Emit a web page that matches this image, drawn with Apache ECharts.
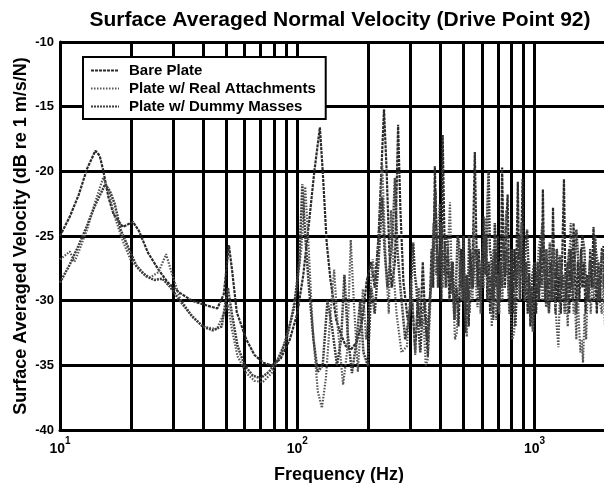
<!DOCTYPE html>
<html>
<head>
<meta charset="utf-8">
<title>Surface Averaged Normal Velocity</title>
<script src="https://cdn.jsdelivr.net/npm/echarts@6/dist/echarts.min.js"></script>
<style>
  html, body { margin: 0; padding: 0; background: #fff; }
  #chart { width: 604px; height: 483px; }
</style>
</head>
<body>
<div id="chart"></div>
<script>
// 数据 [频率Hz, dB]
var seriesNames = ['Bare Plate', 'Plate w/ Real Attachments', 'Plate w/ Dummy Masses'];

var barePlate = [
    [10,-25.0],[11,-23.5],[12,-21.8],[13,-19.8],[14.1,-18.4],[14.7,-18.8],[15.2,-19.9],[16,-22],[16.8,-23.3],
    [18.4,-24.3],[20.3,-23.9],[21.5,-24.6],[23.5,-26.3],[26,-27.6],[28.5,-28.6],[32,-29.4],[36,-30.0],
    [42,-30.4],[46,-30.6],[49,-29.5],[51.5,-25.7],[53,-27.5],[55.6,-30.9],[61,-33],[66,-34.2],[72,-34.8],
    [78,-35],[85,-34.5],[93,-33],[100,-31],[106,-28],[112,-24],[118,-20],[124.5,-16.6],[128,-20],[133,-25.5],
    [138,-28.4],[146,-31.5],[152,-32.5],[160,-33.5],[168,-33.8],[178,-33.2],[188,-31.5],[196,-28.5],[205,-27],
    [212,-29],[220,-25],[232,-15.2],[238,-20],[244,-26],[250,-29],[258,-27],[266,-16.4],[272,-23],[280,-28.5],
    [292,-31.5],[305,-30],[314,-34],[322,-30],[330,-32],[338,-27],[345,-31],[355,-34.3],[362,-30],[368,-26],
    [374,-29],[380,-19.6],[386,-25],[392,-28],[400,-26],[405,-30],[410,-17.2],[416,-24],[422,-29],[430,-26],
    [438,-30],[448,-27],[458,-31],[470,-29],[478,-32],[490,-26],[498,-30],[505,-28],[512,-32.5],[520,-29],
    [528,-32],[535,-26],[545,-29],[552,-24],[560,-18.5],[568,-25],[575,-29],[582,-26],[590,-30],[600,-27],
    [610,-23.5],[618,-28],[625,-25],[632,-30],[642,-27],[650,-31],[660,-28],[670,-31.5],[680,-26],[690,-29],
    [700,-25],[712,-30],[722,-27],[730,-19.7],[740,-26],[750,-29],[760,-24],[770,-21.8],[780,-28],[790,-30],
    [800,-27],[810,-31],[822,-26],[835,-29],[850,-20.8],[860,-27],[870,-30],[880,-25],[890,-20.6],[900,-27],
    [910,-30],[922,-27],[935,-31],[948,-28],[960,-32],[972,-29],[985,-32.3],[1000,-28],[1015,-31],[1030,-27],
    [1045,-30],[1060,-26],[1072,-29],[1084,-21.4],[1096,-27],[1110,-30],[1122,-26],[1135,-29],[1150,-31],
    [1165,-27],[1180,-30],[1196,-22.8],[1210,-28],[1225,-31],[1240,-27],[1255,-30],[1270,-28],[1290,-31],
    [1310,-26],[1330,-20.6],[1345,-27],[1360,-30],[1380,-27],[1400,-31],[1420,-26],[1440,-29],[1460,-24],
    [1480,-28],[1500,-31],[1520,-27],[1545,-30],[1570,-26],[1590,-29],[1615,-27],[1640,-31],[1665,-28],
    [1690,-30],[1715,-26],[1740,-29],[1772,-24.3],[1800,-28],[1830,-31],[1860,-27],[1890,-30],[1920,-26],
    [1955,-25.8],[1980,-29],[2000,-27]
];

var realAttach = [
    [10,-26.8],[10.5,-26.5],[11,-26.2],[11.5,-27],[12,-26.2],[13,-24.5],[14,-22.5],[15.2,-20.5],[16,-21.5],
    [17,-23.5],[18.5,-25.5],[19.8,-26.8],[22,-27.8],[24,-28.2],[26,-27.8],[28,-26.4],[29.5,-27.8],[32,-29.8],
    [36,-31.2],[40,-32],[45.8,-32.2],[49,-31],[51,-30.3],[53,-32.2],[56,-34.3],[61,-35.6],[66,-36.2],[71.5,-36.3],
    [78,-35.6],[86,-34],[94,-31.5],[99.5,-29],[104,-26],[108,-21.2],[111,-25],[116,-32],[122,-37],[127,-38.3],
    [132,-36],[138,-31],[143,-27.6],[148,-32],[156,-36.5],[162,-34],[168,-25.3],[173,-30],[180,-35.5],[189,-29.1],
    [195,-33],[202,-30],[208,-26.8],[214,-29],[222,-24],[228,-19.5],[236,-27],[243,-31],[248,-23],[255,-28],
    [262,-31],[275,-34],[290,-33.5],[302,-28.4],[308,-31],[314,-34.2],[320,-31],[325,-29],[332,-32],[340,-31.5],
    [348,-35],[355,-34.5],[362,-31],[368,-28],[375,-24],[380,-27],[385,-28],[392,-25],[398,-22.5],[404,-27],
    [410,-29],[418,-26],[425,-29],[432,-26],[440,-22.4],[447,-28],[455,-30],[462,-33],[470,-32.5],[477,-29],
    [485,-27],[492,-30],[500,-26.8],[508,-30],[518,-32.8],[526,-29],[533,-31],[540,-28],[548,-30],[555,-24],
    [562,-28],[575,-30.5],[585,-27],[592,-31],[600,-27],[610,-29],[620,-23.6],[628,-28],[640,-30],[652,-27],
    [660,-32],[670,-26],[680,-29],[690,-31.5],[700,-28],[710,-31],[720,-27],[732,-30],[745,-26],[760,-23],
    [772,-28],[782,-31],[790,-30],[805,-33],[820,-32.5],[835,-28],[850,-27],[865,-30],[880,-24],[895,-29],
    [910,-30],[925,-27],[940,-30],[950,-27],[965,-31],[983,-32.4],[1000,-29],[1020,-29],[1040,-26],[1060,-25],
    [1080,-30],[1100,-29],[1120,-26],[1135,-30],[1150,-31],[1170,-28],[1185,-30],[1200,-26],[1220,-30],
    [1240,-32],[1260,-33.6],[1280,-29],[1300,-27],[1320,-30],[1340,-28],[1360,-29.5],[1380,-32],[1400,-27],
    [1420,-24],[1440,-28],[1460,-31],[1480,-30],[1500,-33],[1520,-29],[1540,-32],[1560,-34],[1580,-33],
    [1600,-34.8],[1625,-31],[1650,-33],[1675,-29],[1700,-28],[1725,-31],[1750,-29],[1780,-30],[1810,-26],
    [1850,-27],[1880,-30],[1920,-31],[1950,-28],[1980,-32],[2000,-29]
];

var dummyMass = [
    [10,-28.6],[11,-27.2],[12,-25.7],[13,-24.2],[14,-22.7],[15.5,-21],[16.2,-21.5],[17,-22.5],[18,-24.5],
    [19.5,-26],[21,-27.3],[23,-28.1],[25,-28.4],[27,-28.3],[29,-28.9],[32,-30],[36,-31.2],[40,-32.0],[44,-32.3],
    [48,-32],[51,-29],[53,-31],[56,-33.5],[60,-35],[65,-35.8],[70,-36],[76,-35.5],[83,-34.5],[90,-33],[97,-30.5],
    [102,-27],[105,-21],[108,-25],[112,-29],[117,-33],[122,-35.5],[128,-35],[134,-30],[140,-32],[147,-35],
    [153,-33],[158,-28],[163,-32.5],[170,-35.6],[178,-33],[184,-30],[190,-34],[198,-35],[205,-29],[212,-31],
    [220,-27],[228,-22],[233,-26],[240,-29],[252,-25],[258,-20.5],[264,-26],[272,-29],[285,-33],[298,-31],
    [303,-28],[308,-25.5],[313,-28],[318,-29],[324,-32],[330,-34],[337,-31],[345,-30],[352,-33],[358,-33],
    [365,-29],[372,-27],[377,-24],[382,-21.5],[387,-26],[392,-29],[398,-26],[405,-24],[410,-27],[415,-28],
    [422,-25],[430,-25.5],[437,-28],[445,-29.5],[452,-27],[460,-31.5],[468,-28],[474,-25],[480,-25.5],
    [488,-29],[495,-28.5],[502,-25],[510,-31],[518,-28],[524,-30],[530,-25],[540,-28],[550,-29],[560,-26],
    [570,-26.5],[580,-29],[590,-30],[600,-27],[615,-25],[625,-28],[632,-23],[640,-20],[648,-26],[660,-27],
    [670,-30],[680,-24],[692,-28],[705,-30.5],[715,-27],[728,-29],[740,-25.5],[752,-28],[765,-26],[775,-29],
    [788,-31],[800,-26],[815,-29],[830,-32],[845,-28],[860,-25],[880,-27],[900,-28.5],[915,-26],[930,-24.5],
    [945,-28],[960,-31],[980,-28],[1000,-27],[1020,-29],[1040,-30],[1060,-26],[1080,-24],[1100,-28],
    [1120,-30.5],[1140,-28],[1160,-25.5],[1180,-28],[1200,-30],[1220,-29],[1240,-26],[1260,-28],[1280,-26.5],
    [1300,-29],[1320,-28],[1340,-31],[1370,-28],[1400,-26],[1425,-29],[1450,-30],[1475,-27],[1500,-24.5],
    [1530,-27],[1560,-28.5],[1590,-25],[1620,-26],[1650,-29],[1680,-30],[1710,-27],[1740,-27],[1770,-29],
    [1800,-25],[1830,-28],[1860,-30],[1895,-28],[1930,-26],[1965,-29],[2000,-29]
];

// 对数坐标的次网格线 2..9 x 10^k
var minorGrid = [20, 30, 40, 50, 60, 70, 80, 90, 200, 300, 400, 500, 600, 700, 800, 900, 2000];
var yTicks = [-40, -35, -30, -25, -20, -15, -10];

var FONT = 'Liberation Sans, Arial, Helvetica, sans-serif';

var option = {
    animation: false,
    backgroundColor: '#fff',
    title: {
        text: 'Surface Averaged Normal Velocity (Drive Point 92)',
        left: 335,
        top: 5,
        textAlign: 'center',
        textStyle: { fontFamily: FONT, fontSize: 21, fontWeight: 'bold', color: '#000' }
    },
    legend: {
        data: seriesNames,
        orient: 'vertical',
        left: 83,
        top: 57,
        padding: [6, 10, 5, 7],
        itemWidth: 28,
        itemHeight: 14,
        itemGap: 3,
        backgroundColor: '#fff',
        borderColor: '#000',
        borderWidth: 2,
        borderRadius: 0,
        itemStyle: { opacity: 0 },
        textStyle: { fontFamily: FONT, fontSize: 15, fontWeight: 'bold', color: '#000', padding: [0, 0, 0, 5] }
    },
    // 固定绘图区，不因轴名溢出而缩小
    grid: { left: 60, top: 42, width: 546, height: 388, containLabel: false, outerBoundsMode: 'none' },
    xAxis: {
        type: 'log',
        logBase: 10,
        min: 10,
        max: 2000,
        name: 'Frequency (Hz)',
        nameLocation: 'middle',
        nameGap: 36,
        nameMoveOverlap: false,
        nameTextStyle: { fontFamily: FONT, fontSize: 18, fontWeight: 'bold', color: '#000', padding: [0, 0, 0, 12] },
        axisLine: { lineStyle: { color: '#000', width: 3 } },
        axisTick: { show: false },
        splitLine: { show: true, lineStyle: { color: '#000', width: 3 } },
        axisLabel: {
            margin: 6,
            formatter: function (v) {
                var p = Math.round(Math.log(v) / Math.LN10);
                if (Math.abs(Math.pow(10, p) - v) > 1e-6) return '';
                return '{b|10}{s|' + p + '}';
            },
            rich: {
                b: { fontFamily: FONT, fontSize: 14, fontWeight: 'bold', color: '#000', lineHeight: 20, verticalAlign: 'bottom' },
                s: { fontFamily: FONT, fontSize: 10, fontWeight: 'bold', color: '#000', lineHeight: 20, verticalAlign: 'top' }
            }
        }
    },
    yAxis: {
        type: 'value',
        min: yTicks[0],
        max: yTicks[yTicks.length - 1],
        interval: 5,
        name: 'Surface Averaged Velocity (dB re 1 m/s/N)',
        nameLocation: 'middle',
        nameGap: 30,
        nameMoveOverlap: false,
        nameTextStyle: { fontFamily: FONT, fontSize: 18, fontWeight: 'bold', color: '#000' },
        axisLine: { show: true, lineStyle: { color: '#000', width: 3 } },
        axisTick: { show: false },
        splitLine: { show: true, lineStyle: { color: '#000', width: 3 } },
        axisLabel: { margin: 6, fontFamily: FONT, fontSize: 13, fontWeight: 'bold', color: '#000' }
    },
    series: [
        {
            name: seriesNames[0],
            type: 'line',
            symbol: 'none',
            data: barePlate,
            lineStyle: { color: '#2a2a2a', width: 2.2, type: [3, 1] },
            itemStyle: { color: '#2a2a2a' },
            z: 3,
            markLine: {
                silent: true,
                symbol: 'none',
                label: { show: false },
                lineStyle: { color: '#000', width: 3, type: 'solid' },
                data: minorGrid.map(function (f) { return { xAxis: f }; }),
                z: 1
            }
        },
        {
            name: seriesNames[1],
            type: 'line',
            symbol: 'none',
            data: realAttach,
            lineStyle: { color: '#555', width: 2.2, type: [1.5, 1.5] },
            itemStyle: { color: '#555' },
            z: 3
        },
        {
            name: seriesNames[2],
            type: 'line',
            symbol: 'none',
            data: dummyMass,
            lineStyle: { color: '#3c3c3c', width: 2.5, type: [2, 1] },
            itemStyle: { color: '#3c3c3c' },
            z: 3
        }
    ]
};

var mychart = echarts.init(document.getElementById('chart'));
mychart.setOption(option);
</script>
</body>
</html>
